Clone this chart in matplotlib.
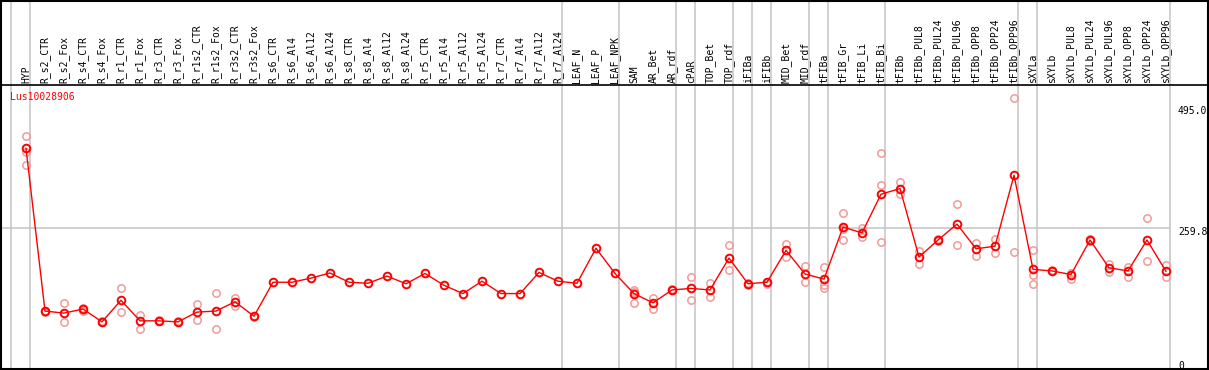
import numpy as np
import matplotlib
matplotlib.use("Agg")
import matplotlib.pyplot as plt

gene = "Lus10028906"

labels = [
    "HYP", "R_s2_CTR", "R_s2_Fox", "R_s4_CTR", "R_s4_Fox", "R_r1_CTR", "R_r1_Fox",
    "R_r3_CTR", "R_r3_Fox", "R_r1s2_CTR", "R_r1s2_Fox", "R_r3s2_CTR", "R_r3s2_Fox",
    "R_s6_CTR", "R_s6_Al4", "R_s6_Al12", "R_s6_Al24", "R_s8_CTR", "R_s8_Al4",
    "R_s8_Al12", "R_s8_Al24", "R_r5_CTR", "R_r5_Al4", "R_r5_Al12", "R_r5_Al24",
    "R_r7_CTR", "R_r7_Al4", "R_r7_Al12", "R_r7_Al24", "LEAF_N", "LEAF_P", "LEAF_NPK",
    "SAM", "AR_Bet", "AR_rdf", "cPAR", "TOP_Bet", "TOP_rdf", "iFIBa", "iFIBb",
    "MID_Bet", "MID_rdf", "tFIBa", "tFIB_Gr", "tFIB_Li", "tFIB_Bi", "tFIBb",
    "tFIBb_PUL8", "tFIBb_PUL24", "tFIBb_PUL96", "tFIBb_OPP8", "tFIBb_OPP24",
    "tFIBb_OPP96", "sXYLa", "sXYLb", "sXYLb_PUL8", "sXYLb_PUL24", "sXYLb_PUL96",
    "sXYLb_OPP8", "sXYLb_OPP24", "sXYLb_OPP96",
]

means = [
    415, 99, 95, 103, 78, 120, 80, 80, 78, 97, 99, 117, 89,
    155, 155, 163, 173, 155, 153, 167, 152, 172, 149, 133, 157,
    133, 133, 174, 157, 153, 221, 172,
    133, 115, 140, 143, 140, 202, 152, 155, 217, 171,
    161, 262, 251, 326, 337, 204, 237, 268, 220, 225, 363,
    180, 177, 170, 237, 183, 177, 237, 176,
]

replicates = [
    [439, 409, 383], [100, 98], [115, 78], [104, 100], [79, 77], [144, 98], [91, 65],
    [81, 79], [79, 77], [113, 82], [134, 64], [124, 109], [90, 88],
    [], [], [], [], [], [], [], [], [], [], [], [],
    [], [], [], [], [], [], [],
    [140, 115, 137], [125, 103], [141, 139], [166, 120], [153, 127], [227, 178],
    [153, 149], [156, 151], [229, 205], [187, 155],
    [184, 143, 149], [289, 259, 237], [260, 242], [406, 343, 233], [350, 326],
    [216, 190], [239, 236], [307, 227], [232, 206], [239, 212], [512, 213],
    [218, 170, 151], [178, 176], [172, 162], [239, 236], [191, 175], [185, 166],
    [280, 196], [188, 165],
]

# number of samples in each tissue group (separators drawn between them)
group_sizes = [1, 28, 3, 3, 1, 2, 1, 1, 2, 1, 3, 7, 1, 7]

y_ticks = [495.0, 259.8, 0]
y_tick_labels = ["495.0", "259.8", "0"]

grid_col = "#c4c4c4"
mono = "DejaVu Sans Mono"

fig = plt.figure(figsize=(12.09, 3.70), dpi=100)
ax = fig.add_axes([1 / 1209, 1.5 / 370, 1207 / 1209, 367.5 / 370])

x = np.arange(len(labels))
ax.set_xlim(-1.316, 62.21)
ax.set_ylim(-12.6, 701.4)
header_y = 538.2

# group separators
bounds = np.concatenate([[0], np.cumsum(group_sizes)]) - 1 + 0.21
for b in bounds:
    ax.axvline(b, color=grid_col, lw=1.1, zorder=1)
ax.hlines(y_ticks[1], -1.316, bounds[-1], color=grid_col, lw=1.1, zorder=1)
ax.axhline(header_y, color="black", lw=1.2, zorder=2)

# replicate points
for xi, reps in zip(x, replicates):
    if reps:
        ax.plot([xi] * len(reps), reps, "o", ms=5.3, mfc="none", mec="#f09a9a",
                mew=1.1, zorder=3, clip_on=False)

# mean line
ax.plot(x, means, "-", color="red", lw=1.0, zorder=4)
ax.plot(x, means, "o", ms=5.5, mfc="none", mec="red", mew=1.4, zorder=5)

# column labels
for xi, lab in zip(x, labels):
    ax.text(xi, header_y + 4, lab, rotation=90, ha="center", va="bottom",
            family=mono, size=7, color="black")

ax.text(-0.84, 515, gene, ha="left", va="center", family=mono, size=7, color="red")

for v, s in zip(y_ticks, y_tick_labels):
    ax.text(60.63, v + 2, s, ha="left", va="top", family=mono, size=7, color="black")

ax.set_xticks([])
ax.set_yticks([])
for sp in ax.spines.values():
    sp.set_linewidth(1.5)
    sp.set_color("black")

fig.savefig("out.png", dpi=100)
